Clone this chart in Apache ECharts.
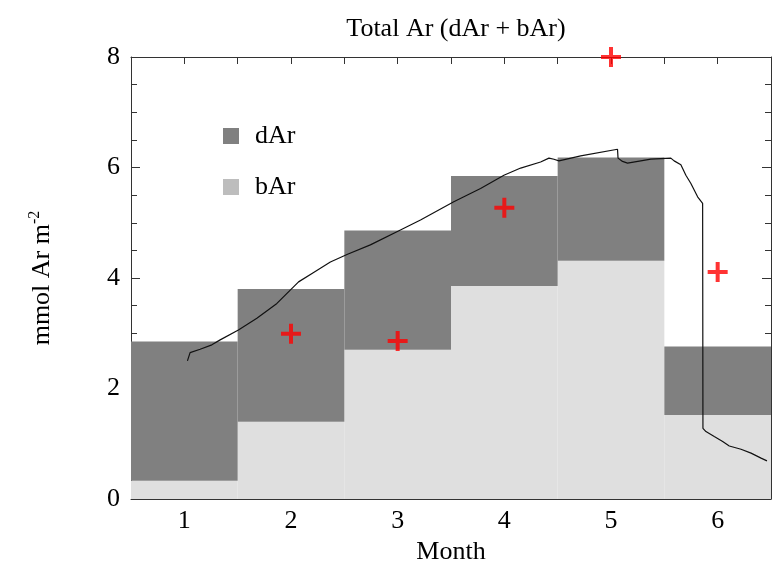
<!DOCTYPE html>
<html>
<head>
<meta charset="utf-8">
<title>Total Ar (dAr + bAr)</title>
<script src="https://cdn.jsdelivr.net/npm/echarts@6/dist/echarts.min.js"></script>
<style>
  html, body { margin: 0; padding: 0; background: #ffffff; }
  #chart { width: 775px; height: 565px; }
</style>
</head>
<body>
<div id="chart"></div>
<script>
// Monthly argon inventory: bAr (bottom of stack) and dAr (top of stack)
const months = ['1', '2', '3', '4', '5', '6'];
const bArValues = [0.33, 1.40, 2.70, 3.855, 4.31, 1.52];
const dArValues = [2.52, 2.40, 2.16, 1.99, 1.87, 1.24];

// Observed totals (red crosses)
const obsMonths = ['2', '3', '4', '5', '6'];
const obsValues = [2.99, 2.86, 5.27, 8.0, 4.11];

// Continuous model total (time in months, value)
const lineTime = [1.029, 1.054, 1.148, 1.258, 1.336, 1.507, 1.680, 1.868, 1.993, 2.071,
  2.212, 2.369, 2.530, 2.744, 3.026, 3.214, 3.526, 3.777, 3.996, 4.153,
  4.340, 4.418, 4.465, 4.512, 4.716, 5.061, 5.066, 5.108, 5.155, 5.279,
  5.373, 5.561, 5.592, 5.655, 5.702, 5.749, 5.812, 5.859, 5.862, 5.890,
  5.968, 6.047, 6.109, 6.219, 6.313, 6.407, 6.462];
const lineValues = [2.50, 2.65, 2.71, 2.79, 2.88, 3.06, 3.27, 3.54, 3.78, 3.93,
  4.10, 4.29, 4.43, 4.60, 4.87, 5.05, 5.38, 5.62, 5.86, 5.99,
  6.10, 6.17, 6.15, 6.12, 6.21, 6.33, 6.17, 6.11, 6.08, 6.12,
  6.15, 6.17, 6.12, 6.05, 5.86, 5.71, 5.47, 5.35, 1.28, 1.22,
  1.13, 1.04, 0.96, 0.90, 0.83, 0.74, 0.69];

const FONT = 'Liberation Serif';
const AXIS_COLOR = '#333333';
const DAR_COLOR = '#808080';
const BAR_COLOR = '#dfdfdf';
const BAR_LEGEND_COLOR = '#bdbdbd';
const PLUS = 'path://M4,0H6V4H10V6H6V10H4V6H0V4H4Z';

const chart = echarts.init(document.getElementById('chart'), null, { renderer: 'canvas' });

chart.setOption({
  animation: false,
  backgroundColor: '#ffffff',
  title: {
    text: 'Total Ar (dAr + bAr)',
    left: 451,
    textAlign: 'center',
    top: 11,
    textStyle: { fontFamily: FONT, fontSize: 26, fontWeight: 'normal', color: '#000' }
  },
  legend: {
    orient: 'vertical',
    left: 218,
    top: 118,
    itemWidth: 16,
    itemHeight: 16,
    itemGap: 25,
    icon: 'rect',
    textStyle: { fontFamily: FONT, fontSize: 26, color: '#000', lineHeight: 26, padding: [0, 0, 0, 11] },
    data: [
      { name: 'dAr', itemStyle: { color: DAR_COLOR } },
      { name: 'bAr', itemStyle: { color: BAR_LEGEND_COLOR } }
    ]
  },
  grid: { left: 131, right: 4, top: 57, bottom: 66, containLabel: false, outerBoundsMode: 'none' },
  xAxis: [
    {
      type: 'category',
      data: months,
      position: 'bottom',
      boundaryGap: true,
      axisLine: { show: true, lineStyle: { color: AXIS_COLOR, width: 1 } },
      splitLine: { show: false },
      axisTick: { show: false, length: 0 },
      minorTick: { show: false },
      axisLabel: { fontFamily: FONT, fontSize: 26, color: '#000', margin: 9 },
      name: 'Month',
      nameLocation: 'middle',
      nameGap: 34,
      nameTextStyle: { fontFamily: FONT, fontSize: 26, color: '#000' }
    },
    {
      type: 'value',
      position: 'top',
      min: 0.5,
      max: 6.5,
      interval: 0.5,
      axisLine: { show: true, onZero: false, lineStyle: { color: AXIS_COLOR, width: 1 } },
      splitLine: { show: false },
      axisTick: { show: true, inside: true, length: 7, lineStyle: { color: AXIS_COLOR } },
      axisLabel: { show: false }
    }
  ],
  yAxis: [
    {
      type: 'value',
      position: 'left',
      min: 0,
      max: 8,
      interval: 2,
      axisLine: { show: true, onZero: false, lineStyle: { color: AXIS_COLOR, width: 1 } },
      splitLine: { show: false },
      axisTick: { show: true, inside: true, length: 9, lineStyle: { color: AXIS_COLOR } },
      minorTick: { show: true, splitNumber: 4, length: 6, lineStyle: { color: AXIS_COLOR } },
      axisLabel: { fontFamily: FONT, fontSize: 26, color: '#000', margin: 11 },
      name: 'mmol Ar m{sup|-2}',
      nameLocation: 'middle',
      nameGap: 74,
      nameRotate: 90,
      nameTextStyle: {
        fontFamily: FONT, fontSize: 26, color: '#000', lineHeight: 30,
        rich: { sup: { fontFamily: FONT, fontSize: 16, color: '#000', verticalAlign: 'top', lineHeight: 30, padding: [0, 0, 10, 0] } }
      }
    },
    {
      type: 'value',
      position: 'right',
      min: 0,
      max: 8,
      interval: 2,
      axisLine: { show: true, onZero: false, lineStyle: { color: AXIS_COLOR, width: 1 } },
      splitLine: { show: false },
      axisTick: { show: true, inside: true, length: 9, lineStyle: { color: AXIS_COLOR } },
      minorTick: { show: true, splitNumber: 4, length: 6, lineStyle: { color: AXIS_COLOR } },
      axisLabel: { show: false }
    }
  ],
  series: [
    {
      name: 'bAr',
      type: 'bar',
      stack: 'total',
      xAxisIndex: 0,
      yAxisIndex: 0,
      barCategoryGap: '0%',
      itemStyle: { color: BAR_COLOR },
      data: bArValues,
      z: 2
    },
    {
      name: 'dAr',
      type: 'bar',
      stack: 'total',
      xAxisIndex: 0,
      yAxisIndex: 0,
      barCategoryGap: '0%',
      itemStyle: { color: DAR_COLOR },
      data: dArValues,
      z: 2
    },
    {
      name: 'Total',
      type: 'line',
      xAxisIndex: 1,
      yAxisIndex: 0,
      showSymbol: false,
      symbol: 'none',
      lineStyle: { color: '#111111', width: 1.2 },
      data: lineTime.map((t, i) => [t, lineValues[i]]),
      z: 4
    },
    {
      name: 'Observed',
      type: 'scatter',
      xAxisIndex: 0,
      yAxisIndex: 0,
      symbol: PLUS,
      symbolSize: 20,
      itemStyle: { color: '#ff0000' },
      clip: false,
      data: obsMonths.map((m, i) => [m, obsValues[i]]),
      z: 5
    }
  ]
});
</script>
</body>
</html>
